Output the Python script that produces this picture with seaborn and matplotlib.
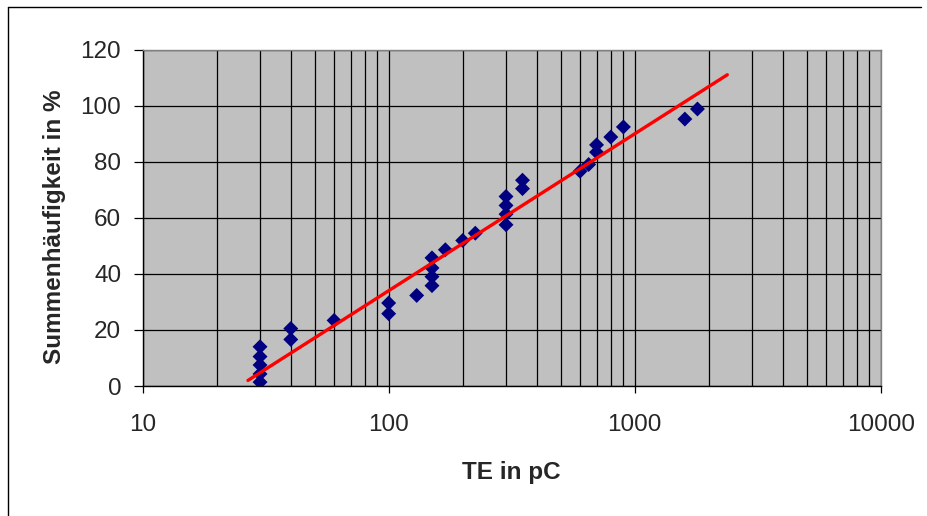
import numpy as np
import pandas as pd
import matplotlib
matplotlib.use("Agg")
import matplotlib.pyplot as plt
from matplotlib.lines import Line2D
from matplotlib.ticker import LogLocator, NullFormatter, FixedLocator
import seaborn as sns

# Messwerte: Teilentladung (pC) und Summenhaeufigkeit (%)
te_pc = [30, 30, 30, 30, 30, 40, 40, 60, 100, 100, 130,
         150, 150, 150, 150, 170, 200, 225,
         300, 300, 300, 300, 350, 350,
         600, 650, 700, 700, 800, 900, 1600, 1800]
summe = [1.4, 4.3, 7.5, 10.5, 14.0, 16.6, 20.5, 23.4, 25.8, 29.6, 32.3,
         35.8, 39.0, 42.1, 45.7, 48.6, 51.9, 54.5,
         57.5, 61.3, 64.4, 67.6, 70.4, 73.4,
         76.6, 79.0, 83.4, 86.0, 88.8, 92.4, 95.2, 98.8]

# Trendlinie (Start- und Endpunkt)
trend_x = [26.8, 2380]
trend_y = [2.0, 111.0]

y_ticks = [0, 20, 40, 60, 80, 100, 120]
x_ticks = [10, 100, 1000, 10000]
x_tick_labels = ["10", "100", "1000", "10000"]

df = pd.DataFrame({"TE": te_pc, "S": summe})
trend = pd.DataFrame({"TE": trend_x, "S": trend_y})

sns.set_theme(style="white")
plt.rcParams["font.family"] = ["Liberation Sans", "DejaVu Sans"]

fig = plt.figure(figsize=(9.27, 5.16), dpi=100)
ax = fig.add_axes([0.1539, 0.2519, 0.7961, 0.6521])
ax.set_facecolor("#C0C0C0")
ax.set_xscale("log")

sns.scatterplot(data=df, x="TE", y="S", marker="D", s=58, color="#000080",
                edgecolor="none", ax=ax, zorder=3)
sns.lineplot(data=trend, x="TE", y="S", color="#FF0000", linewidth=2.4,
             ax=ax, zorder=4)

ax.set_xlim(10, 10000)
ax.set_ylim(0, 120)
ax.yaxis.set_major_locator(FixedLocator(y_ticks))
ax.xaxis.set_major_locator(FixedLocator(x_ticks))
ax.set_xticklabels(x_tick_labels)
ax.xaxis.set_minor_locator(LogLocator(base=10, subs=np.arange(2, 10)))
ax.xaxis.set_minor_formatter(NullFormatter())

ax.grid(True, which="major", axis="both", color="black", linewidth=0.9)
ax.grid(True, which="minor", axis="x", color="black", linewidth=0.9)
ax.set_axisbelow(True)

ax.tick_params(axis="y", which="major", direction="out", length=6.5, width=0.9,
               color="black", left=True, labelsize=17.5, pad=9)
ax.tick_params(axis="x", which="major", direction="out", length=5, width=0.9,
               color="black", bottom=True, labelsize=17.5, pad=15)
ax.tick_params(axis="x", which="minor", length=0)

for side in ["left", "bottom"]:
    ax.spines[side].set_color("black")
    ax.spines[side].set_linewidth(1.0)
for side in ["top", "right"]:
    ax.spines[side].set_color("#808080")
    ax.spines[side].set_linewidth(1.0)

ax.set_xlabel("TE in pC", fontsize=17.5, fontweight="bold", labelpad=18)
ax.set_ylabel("Summenhäufigkeit in %", fontsize=17.5, fontweight="bold")
ax.yaxis.set_label_coords(-0.104, 0.472)

# Rahmen des Diagrammbereichs (links und oben)
fig.add_artist(Line2D([8 / 927, 8 / 927], [0, 1 - 7 / 516], transform=fig.transFigure,
                      color="black", linewidth=1.0))
fig.add_artist(Line2D([8 / 927, 921 / 927], [1 - 7 / 516, 1 - 7 / 516],
                      transform=fig.transFigure, color="black", linewidth=1.0))

fig.savefig("out.png", dpi=100)
